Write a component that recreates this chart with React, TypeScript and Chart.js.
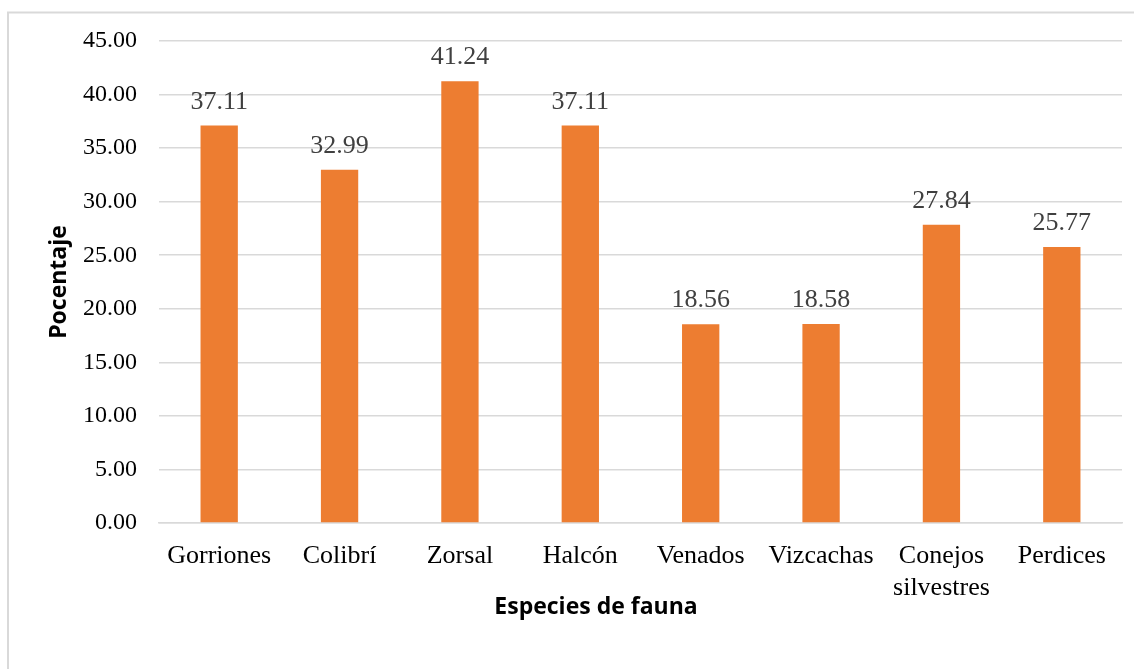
import React, { useEffect, useRef } from "react";
import { Chart, registerables } from "chart.js";

Chart.register(...registerables);

const categories: (string | string[])[] = [
  "Gorriones",
  "Colibrí",
  "Zorsal",
  "Halcón",
  "Venados",
  "Vizcachas",
  ["Conejos", "silvestres"],
  "Perdices",
];
const percentages: number[] = [37.11, 32.99, 41.24, 37.11, 18.56, 18.58, 27.84, 25.77];
const yTitle = "Pocentaje";
const xTitle = "Especies de fauna";
const yMin = 0;
const yMax = 45;
const yStep = 5;

const SERIF = "'Liberation Serif', 'Times New Roman', serif";
const SANS = "'Open Sans', 'Liberation Sans', sans-serif";

const frame = {
  id: "frame",
  beforeDraw(chart: any) {
    const ctx = chart.ctx;
    ctx.save();
    ctx.fillStyle = "#ffffff";
    ctx.fillRect(0, 0, chart.width, chart.height);
    ctx.strokeStyle = "#d9d9d9";
    ctx.lineWidth = 2;
    ctx.beginPath();
    ctx.moveTo(8, chart.height + 5);
    ctx.lineTo(8, 12.5);
    ctx.lineTo(chart.width + 5, 12.5);
    ctx.stroke();
    ctx.restore();
  },
};

const valueLabels = {
  id: "valueLabels",
  afterDatasetsDraw(chart: any) {
    const ctx = chart.ctx;
    const meta = chart.getDatasetMeta(0);
    const data = chart.data.datasets[0].data as number[];
    ctx.save();
    ctx.font = `26px ${SERIF}`;
    ctx.fillStyle = "#404040";
    ctx.textAlign = "center";
    ctx.textBaseline = "alphabetic";
    meta.data.forEach((el: any, i: number) => {
      ctx.fillText(data[i].toFixed(2), el.x, el.y - 17);
    });
    ctx.restore();
  },
};

const xAxisTitle = {
  id: "xAxisTitle",
  afterDraw(chart: any) {
    const ctx = chart.ctx;
    ctx.save();
    ctx.font = `bold 23px ${SANS}`;
    ctx.fillStyle = "#000000";
    ctx.textAlign = "center";
    ctx.textBaseline = "middle";
    ctx.fillText(xTitle, 596, 607);
    ctx.restore();
  },
};

export default function App() {
  const ref = useRef<HTMLCanvasElement | null>(null);
  useEffect(() => {
    if (!ref.current) return;
    const chart = new Chart(ref.current, {
      type: "bar",
      data: {
        labels: categories,
        datasets: [
          {
            data: percentages,
            backgroundColor: "#ED7D31",
            borderWidth: 0,
            categoryPercentage: 1,
            barPercentage: 0.31,
          },
        ],
      },
      options: {
        responsive: false,
        animation: false,
        devicePixelRatio: 1,
        layout: { padding: { left: 0, top: 41, right: 12, bottom: 0 } },
        plugins: {
          legend: { display: false },
          tooltip: { enabled: false },
        },
        scales: {
          x: {
            grid: { display: false, drawTicks: false },
            border: { display: true, color: "#d9d9d9", width: 1.5 },
            ticks: {
              color: "#000000",
              font: { family: SERIF, size: 26, lineHeight: 1.23 },
              padding: 17,
              maxRotation: 0,
              autoSkip: false,
            },
            afterFit(scale: any) {
              scale.height = 146;
            },
          },
          y: {
            min: yMin,
            max: yMax,
            grid: { color: "#d9d9d9", lineWidth: 1.5, drawTicks: false },
            border: { display: false },
            ticks: {
              stepSize: yStep,
              color: "#000000",
              font: { family: SERIF, size: 24 },
              padding: 22,
              callback: (v: any) => Number(v).toFixed(2),
            },
            title: {
              display: true,
              text: yTitle,
              color: "#000000",
              font: { family: SANS, size: 23, weight: "bold" },
              padding: { top: 46, bottom: 0 },
            },
            afterFit(scale: any) {
              scale.width = 159;
            },
          },
        },
      },
      plugins: [frame, valueLabels, xAxisTitle],
    });
    return () => chart.destroy();
  }, []);
  return (
    <div style={{ position: "absolute", left: 0, top: 0, width: 1134, height: 669, background: "#fff" }}>
      <canvas ref={ref} width={1134} height={669} style={{ display: "block", width: 1134, height: 669 }} />
    </div>
  );
}
